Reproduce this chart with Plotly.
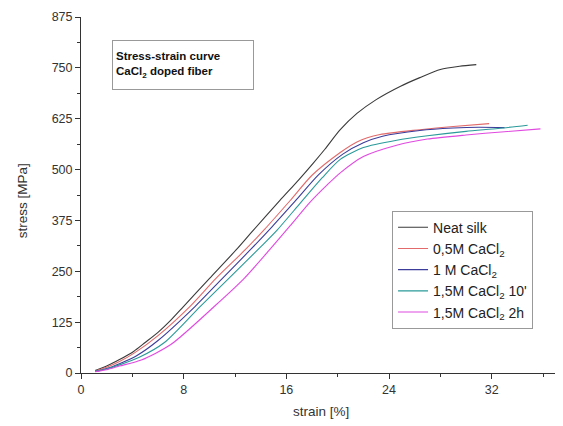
import plotly.graph_objects as go

series_names = ["Neat silk", "0,5M CaCl<sub>2</sub>", "1 M CaCl<sub>2</sub>",
                "1,5M CaCl<sub>2</sub> 10'", "1,5M CaCl<sub>2</sub> 2h"]
series_colors = ["#3a3a3a", "#e26a6a", "#3c3c9a", "#2a9a9a", "#e04ae0"]

neat_strain = [1.1, 2, 3, 4.1, 5, 6, 7, 8, 10, 12.1, 13.4, 15.5, 17, 18.1, 19, 20.2, 21.5, 23, 24.9, 26.4, 28, 29.5, 30.8]
neat_stress = [6, 17, 33, 53, 75, 100, 130, 164, 232, 303, 350, 424, 476, 516, 550, 598, 638, 672, 705, 726, 746, 754, 758]

m05_strain = [1.1, 2, 3, 4.2, 6, 8.5, 10.5, 12.8, 14.3, 16.3, 18, 20.2, 21.5, 23.3, 26.4, 29, 31.8]
m05_stress = [5, 14, 28, 50, 92, 164, 232, 303, 353, 424, 486, 542, 568, 586, 598, 606, 613]

m1_strain = [1.1, 2, 3, 4.3, 6, 8.9, 11, 13.2, 14.9, 16.7, 18.5, 20.4, 22, 23.5, 26.4, 29, 31, 33]
m1_stress = [4, 11, 23, 42, 80, 164, 232, 303, 360, 423, 487, 538, 566, 582, 596, 602, 604, 603]

m15a_strain = [1.1, 2, 3, 4.5, 6.5, 9.3, 11.5, 14.0, 15.3, 17.1, 18.8, 20.2, 22, 24.6, 27, 30, 32.5, 34.8]
m15a_stress = [4, 10, 20, 38, 75, 164, 232, 310, 352, 418, 480, 525, 554, 572, 583, 594, 601, 609]

m15b_strain = [1.1, 2, 3, 4.7, 7, 10.4, 12.7, 14.7, 16.3, 17.85, 19.2, 20.2, 22, 24.6, 27, 30, 33, 35.8]
m15b_stress = [3, 8, 17, 32, 70, 164, 232, 303, 362, 420, 463, 492, 532, 560, 575, 585, 593, 600]

x_ticks = [0, 8, 16, 24, 32]
y_ticks = [0, 125, 250, 375, 500, 625, 750, 875]

data = [(neat_strain, neat_stress), (m05_strain, m05_stress), (m1_strain, m1_stress),
        (m15a_strain, m15a_stress), (m15b_strain, m15b_stress)]

fig = go.Figure()
for (xs, ys), name, col in zip(data, series_names, series_colors):
    fig.add_trace(go.Scatter(x=xs, y=ys, mode="lines", name=name,
                             line=dict(color=col, width=1.1, shape="spline", smoothing=0.7)))

font_family = "Liberation Sans, Arial, sans-serif"
# page body adds an 8px margin, so the figure is sized/offset to compensate
fig.update_layout(
    width=555, height=418,
    margin=dict(l=73, r=2, t=9, b=53),
    paper_bgcolor="white", plot_bgcolor="white",
    font=dict(family=font_family, size=12, color="#333"),
    showlegend=True,
    legend=dict(x=0.648, y=0.456, xanchor="left", yanchor="top",
                bordercolor="#999", borderwidth=1, bgcolor="white",
                font=dict(size=14, color="#222"), itemwidth=30, tracegroupgap=0),
)
fig.update_xaxes(range=[0, 37.4], tickvals=x_ticks, ticks="outside", ticklen=5,
                 tickcolor="#333", showline=True, linecolor="#333", linewidth=1,
                 showgrid=False, zeroline=False, automargin=False,
                 tickfont=dict(size=12.5),
                 minor=dict(ticks="outside", ticklen=3, dtick=4, tick0=0, tickcolor="#333", showgrid=False))
fig.update_yaxes(range=[0, 875], tickvals=y_ticks, ticks="outside", ticklen=5,
                 tickcolor="#333", showline=True, linecolor="#333", linewidth=1,
                 showgrid=False, zeroline=False, automargin=False,
                 tickfont=dict(size=12.5),
                 minor=dict(ticks="outside", ticklen=3, dtick=62.5, tick0=0, tickcolor="#333", showgrid=False))

# axis titles
fig.add_annotation(xref="paper", yref="paper", x=0.5, y=-0.109, xanchor="center", yanchor="middle",
                   text="strain [%]", showarrow=False, font=dict(size=13.5, color="#333"))
fig.add_annotation(xref="paper", yref="paper", x=-0.123, y=0.485, xanchor="center", yanchor="middle",
                   text="stress [MPa]", textangle=-90, showarrow=False, font=dict(size=13.5, color="#333"))

fig.add_annotation(xref="paper", yref="paper", x=0.065, y=0.936, xanchor="left", yanchor="top",
                   text="<b>Stress-strain curve</b><br><b>CaCl<sub>2</sub> doped fiber</b>",
                   showarrow=False, align="left", valign="middle",
                   width=134, height=42, borderpad=3, bordercolor="#999", borderwidth=1,
                   bgcolor="white", font=dict(size=11.5, color="#111", family=font_family))

fig.write_html("out.html")
